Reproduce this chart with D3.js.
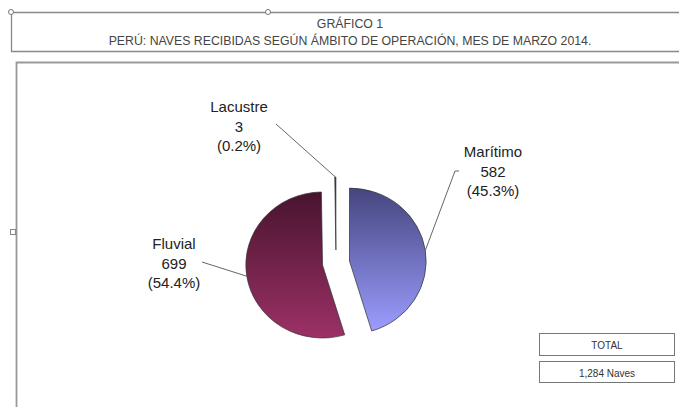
<!DOCTYPE html>
<html>
<head>
<meta charset="utf-8">
<script src="https://cdn.jsdelivr.net/npm/d3@7"></script>
<style>
  body { margin: 0; background: #fff; }
  text { font-family: "Liberation Sans", Arial, sans-serif; }
</style>
</head>
<body>
<svg width="679" height="407"></svg>
<script>
// data
var categories = ["Marítimo", "Fluvial", "Lacustre"];
var values = [582, 699, 3];
var percents = ["45.3%", "54.4%", "0.2%"];
var titleLines = ["GRÁFICO 1", "PERÚ: NAVES RECIBIDAS SEGÚN ÁMBITO DE OPERACIÓN, MES DE MARZO 2014."];
var totalLabels = ["TOTAL", "1,284 Naves"];

var svg = d3.select("svg");

// title box
svg.append("path")
    .attr("d", "M11.5,12.5H679 M11.5,12.5V51.5H679")
    .attr("fill", "none").attr("stroke", "#888").attr("stroke-width", 1.3);
svg.selectAll(".handle")
    .data([11, 268])
    .enter().append("circle")
    .attr("cx", function(d) { return d; }).attr("cy", 12)
    .attr("r", 2.5).attr("fill", "#fff").attr("stroke", "#777");

svg.selectAll(".title")
    .data(titleLines)
    .enter().append("text")
    .attr("x", 350)
    .attr("y", function(d, i) { return 28 + i * 17; })
    .attr("text-anchor", "middle")
    .attr("font-size", 12.3)
    .attr("fill", "#444")
    .text(function(d) { return d; });

// chart frame
svg.append("path")
    .attr("d", "M16.5,407V62.5H679")
    .attr("fill", "none").attr("stroke", "#999").attr("stroke-width", 1.8);
svg.append("rect")
    .attr("x", 10.5).attr("y", 229.5).attr("width", 5).attr("height", 5)
    .attr("fill", "#fff").attr("stroke", "#888");

// pie
var cx = 336, cy = 263, radius = 73, explode = 13, xStretch = 1.05;

var defs = svg.append("defs");
var gradColors = [["#45457f", "#9c9cff"], ["#48142e", "#9c3166"], ["#333", "#333"]];
gradColors.forEach(function(c, i) {
  var g = defs.append("linearGradient")
      .attr("id", "grad" + i)
      .attr("x1", 0).attr("y1", 0).attr("x2", 0).attr("y2", 1);
  g.append("stop").attr("offset", "0%").attr("stop-color", c[0]);
  g.append("stop").attr("offset", "100%").attr("stop-color", c[1]);
});

var pie = d3.pie().sort(null).value(function(d) { return d; });
var arcs = pie(values);
var arc = d3.arc().innerRadius(0).outerRadius(radius);

var pieG = svg.append("g")
    .attr("transform", "translate(" + cx + "," + cy + ") scale(" + xStretch + ",1)");

function offset(d, r) {
  var a = (d.startAngle + d.endAngle) / 2;
  return [Math.sin(a) * r, -Math.cos(a) * r];
}

pieG.selectAll(".slice")
    .data(arcs)
    .enter().append("path")
    .attr("class", "slice")
    .attr("transform", function(d) { var o = offset(d, explode); return "translate(" + o[0] + "," + o[1] + ")"; })
    .attr("d", arc)
    .attr("fill", function(d, i) { return "url(#grad" + i + ")"; })
    .attr("stroke", "#333")
    .attr("stroke-width", 0.7);

// labels and leader lines
var labelPos = [[493, 152], [174, 244], [239, 107]];
var leaderStart = [[459, 171], [202, 262], [276, 124]];

arcs.forEach(function(d, i) {
  var o = offset(d, explode), p = offset(d, radius);
  var ex = cx + (o[0] + p[0]) * xStretch, ey = cy + o[1] + p[1];
  var s = leaderStart[i];
  var pts = i === 0 ? [[s[0], s[1]], [s[0] - 4, s[1]], [ex, ey]] : [[s[0], s[1]], [ex, ey]];
  svg.append("path")
      .attr("d", d3.line()(pts))
      .attr("fill", "none").attr("stroke", "#666").attr("stroke-width", 1);

  var t = svg.append("text")
      .attr("x", labelPos[i][0]).attr("y", labelPos[i][1] + 5)
      .attr("text-anchor", "middle")
      .attr("font-size", 15)
      .attr("fill", "#222");
  [categories[i], values[i], "(" + percents[i] + ")"].forEach(function(line, j) {
    t.append("tspan").attr("x", labelPos[i][0]).attr("dy", j ? 19.5 : 0).text(line);
  });
});

// total boxes
var boxG = svg.selectAll(".tot")
    .data(totalLabels)
    .enter().append("g")
    .attr("transform", function(d, i) { return "translate(539.5," + (333.5 + i * 28) + ")"; });
boxG.append("rect")
    .attr("width", 135).attr("height", function(d, i) { return i ? 21 : 22; })
    .attr("fill", "#fff").attr("stroke", "#777");
boxG.append("text")
    .attr("x", 67.5).attr("y", 15)
    .attr("text-anchor", "middle")
    .attr("font-size", 10)
    .attr("fill", "#333")
    .text(function(d) { return d; });
</script>
</body>
</html>
